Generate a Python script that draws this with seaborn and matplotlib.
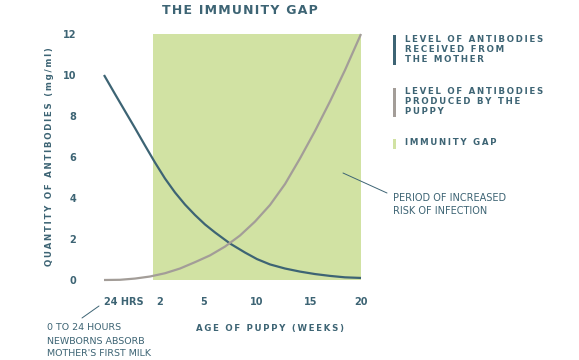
import numpy as np
import pandas as pd
import matplotlib
matplotlib.use("Agg")
import matplotlib.pyplot as plt
import seaborn as sns

# ---- data ----
weeks_mother = [0.143, 0.508, 0.839, 1.171, 1.503, 1.834, 2.341, 3.023, 3.705, 4.386, 5.094, 6.038,
                7.453, 8.868, 10.0, 11.204, 12.593, 13.981, 15.4, 16.9, 18.4, 20]
antibodies_mother = [10.0, 9.07, 8.24, 7.41, 6.56, 5.73, 4.95, 4.27, 3.68, 3.17, 2.71, 2.32,
                     1.78, 1.34, 1.02, 0.76, 0.56, 0.41, 0.29, 0.2, 0.13, 0.1]
weeks_puppy = [0.143, 0.674, 1.171, 1.668, 2.341, 3.364, 4.386, 5.566, 6.981, 8.396, 9.811,
               11.204, 12.593, 13.981, 15.4, 16.9, 18.4, 20]
antibodies_puppy = [0.0, 0.01, 0.07, 0.17, 0.33, 0.56, 0.87, 1.2, 1.63, 2.17, 2.85,
                    3.66, 4.68, 5.93, 7.27, 8.71, 10.24, 12.0]
gap_start, gap_end = 1.77, 20
tick_weeks = [1 / 7, 2, 5, 10, 15, 20]
tick_labels = ["24 HRS", "2", "5", "10", "15", "20"]
y_ticks = [0, 2, 4, 6, 8, 10, 12]

# irregular axis spacing as drawn in the original
tick_pos = [0, 56, 100, 153, 207, 257]

TEAL = "#3d6474"
GREY = "#a39d98"
GREEN = "#d1e2a3"

def track(s, sp="\u200a"):
    return sp.join(list(s))

sns.set_theme(style="white")
plt.rcParams["font.family"] = ["DejaVu Sans"]

W, H = 579, 360
fig = plt.figure(figsize=(W / 100, H / 100), dpi=100)

def P(x, y):
    return x / W, 1 - y / H

ax = fig.add_axes([104 / W, 1 - 280 / H, (361 - 104) / W, 246 / H])

fwd = lambda w: np.interp(w, tick_weeks, tick_pos)
inv = lambda p: np.interp(p, tick_pos, tick_weeks)
ax.set_xscale("function", functions=(fwd, inv))

df = pd.concat([
    pd.DataFrame({"week": weeks_mother, "val": antibodies_mother, "series": "mother"}),
    pd.DataFrame({"week": weeks_puppy, "val": antibodies_puppy, "series": "puppy"}),
])

ax.axvspan(gap_start, gap_end, ymin=0, ymax=1, color=GREEN, lw=0, zorder=0)
sns.lineplot(data=df, x="week", y="val", hue="series", palette={"mother": TEAL, "puppy": GREY},
             lw=1.6, legend=False, ax=ax, sort=False, estimator=None, zorder=3)
for l in ax.lines:
    l.set_clip_on(False)
    l.set_solid_capstyle("butt")
    l.set_solid_joinstyle("round")

ax.set_xlim(1 / 7, 20)
ax.set_ylim(0, 12)
ax.set_xticks(tick_weeks)
ax.set_xticklabels(tick_labels)
ax.set_yticks(y_ticks)
ax.set_yticklabels([str(v) for v in y_ticks])
ax.tick_params(axis="both", length=0, labelsize=7, labelcolor=TEAL)
ax.tick_params(axis="y", pad=20)
ax.tick_params(axis="x", pad=12)
for t in ax.get_xticklabels() + ax.get_yticklabels():
    t.set_fontweight("bold")
ax.get_xticklabels()[0].set_ha("left")
ax.set_xlabel("")
ax.set_ylabel("")
for s in ax.spines.values():
    s.set_visible(False)
ax.set_facecolor("none")

# title and axis labels
fig.text(*P(240, 9), track("THE IMMUNITY GAP"), ha="center", va="center_baseline", fontsize=9,
         fontweight="bold", color=TEAL)
fig.text(*P(270, 328), track("AGE OF PUPPY (WEEKS)", "\u2009"), ha="center", va="center", fontsize=6.2,
         fontweight="bold", color=TEAL)
fig.text(*P(50, 157), track("QUANTITY OF ANTIBODIES (mg/ml)", "\u2009"), ha="center", va="center",
         fontsize=6.2, fontweight="bold", color=TEAL, rotation=90)

# legend
leg = [
    (TEAL, 35, 65, ["LEVEL OF ANTIBODIES", "RECEIVED FROM", "THE MOTHER"]),
    (GREY, 88, 117, ["LEVEL OF ANTIBODIES", "PRODUCED BY THE", "PUPPY"]),
    (GREEN, 139, 149, ["IMMUNITY GAP"]),
]
for col, y0, y1, lines in leg:
    fig.patches.append(plt.Rectangle(P(393, y1), 3 / W, (y1 - y0) / H, transform=fig.transFigure,
                                     color=col, lw=0))
    for i, line in enumerate(lines):
        fig.text(*P(405, y0 + 4 + i * 10), track(line, "\u2009"), ha="left", va="center",
                 fontsize=6.2, fontweight="bold", color=TEAL)

# annotations
fig.add_artist(plt.Line2D([343 / W, 387 / W], [1 - 173 / H, 1 - 193 / H], color=TEAL, lw=0.7))
fig.text(*P(393, 198), "PERIOD OF INCREASED", ha="left", va="center", fontsize=7, color=TEAL)
fig.text(*P(393, 211), "RISK OF INFECTION", ha="left", va="center", fontsize=7, color=TEAL)
fig.add_artist(plt.Line2D([99 / W, 82 / W], [1 - 306 / H, 1 - 318 / H], color=TEAL, lw=0.7))
for i, line in enumerate(["0 TO 24 HOURS", "NEWBORNS ABSORB", "MOTHER'S FIRST MILK"]):
    fig.text(*P(47, 328 + i * 13), line, ha="left", va="center", fontsize=6.8, color=TEAL)

fig.savefig("out.png", dpi=100)
